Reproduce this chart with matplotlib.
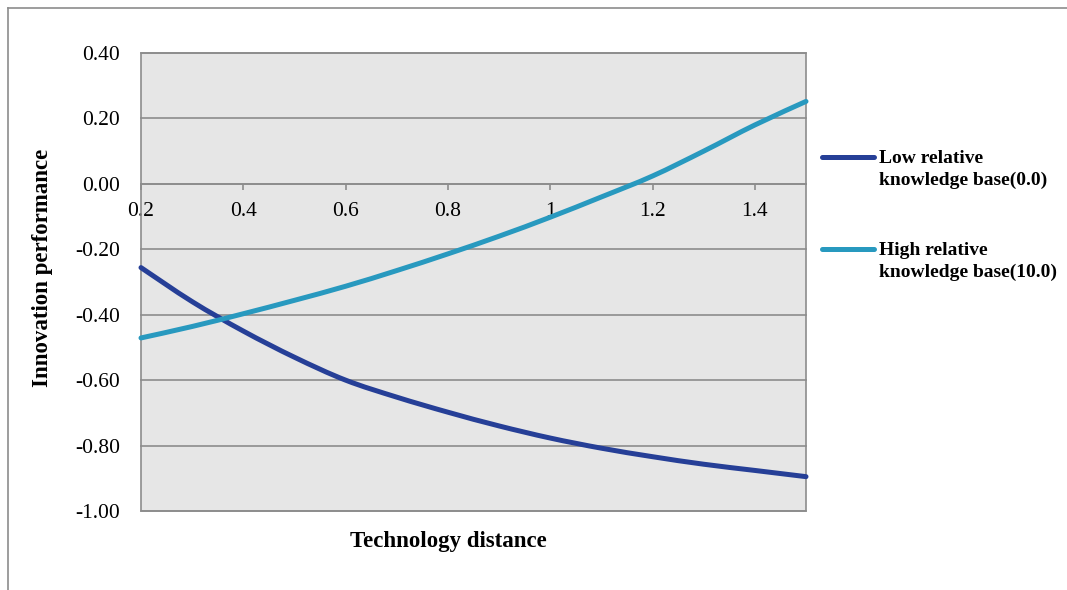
import matplotlib
matplotlib.use("Agg")
import matplotlib.pyplot as plt
from matplotlib.lines import Line2D
from matplotlib.patches import Rectangle, PathPatch
from matplotlib.path import Path

# Technology distance and predicted innovation performance for two groups
distance = [0.2, 0.3, 0.4, 0.5, 0.6, 0.7, 0.8, 0.9, 1.0, 1.1, 1.2, 1.3, 1.4, 1.5]
low_kb = [-0.256, -0.360, -0.450, -0.530, -0.600, -0.652, -0.698, -0.740,
          -0.777, -0.808, -0.834, -0.857, -0.876, -0.895]
high_kb = [-0.471, -0.436, -0.397, -0.356, -0.313, -0.265, -0.214, -0.160,
           -0.102, -0.040, 0.024, 0.100, 0.180, 0.252]

series_labels = ["Low relative\nknowledge base(0.0)",
                 "High relative\nknowledge base(10.0)"]
x_ticks = [0.2, 0.4, 0.6, 0.8, 1.0, 1.2, 1.4]
x_ticklabels = ["0.2", "0.4", "0.6", "0.8", "1", "1.2", "1.4"]
y_ticks = [0.4, 0.2, 0.0, -0.2, -0.4, -0.6, -0.8, -1.0]
y_ticklabels = ["0.40", "0.20", "0.00", "-0.20", "-0.40", "-0.60", "-0.80", "-1.00"]

LOW_COLOR = "#263f97"
HIGH_COLOR = "#2899bf"
GRID = "#8c8c8c"

plt.rcParams["font.family"] = ["Liberation Serif", "DejaVu Serif"]
plt.rcParams["axes.unicode_minus"] = False


def smooth_path(xs, ys, tension=1 / 6):
    """Smoothed line through the points, using cubic Bezier segments."""
    n = len(xs)
    verts = [(xs[0], ys[0])]
    codes = [Path.MOVETO]
    for i in range(n - 1):
        x0, y0 = xs[max(i - 1, 0)], ys[max(i - 1, 0)]
        x1, y1 = xs[i], ys[i]
        x2, y2 = xs[i + 1], ys[i + 1]
        x3, y3 = xs[min(i + 2, n - 1)], ys[min(i + 2, n - 1)]
        c1 = (x1 + (x2 - x0) * tension, y1 + (y2 - y0) * tension)
        c2 = (x2 - (x3 - x1) * tension, y2 - (y3 - y1) * tension)
        verts += [c1, c2, (x2, y2)]
        codes += [Path.CURVE4] * 3
    return Path(verts, codes)


W, H = 1067, 590
fig = plt.figure(figsize=(W / 100, H / 100), dpi=100)
fig.patch.set_facecolor("white")

ax = fig.add_axes([141 / W, 1 - 511 / H, (806 - 141) / W, (511 - 53) / H])
ax.set_facecolor("#e6e6e6")
ax.set_xlim(0.2, 1.5)
ax.set_ylim(-1.0, 0.4)

# horizontal gridlines
for yv in y_ticks:
    ax.axhline(yv, color=GRID, lw=1.2, zorder=1, clip_on=False)

# plot area border
ax.add_patch(Rectangle((0, 0), 1, 1, transform=ax.transAxes, fill=False,
                       edgecolor=GRID, lw=1.2, clip_on=False, zorder=2))
for side in ["left", "right", "top"]:
    ax.spines[side].set_visible(False)
ax.spines["bottom"].set_position(("data", 0))
ax.spines["bottom"].set_color(GRID)
ax.spines["bottom"].set_linewidth(1.2)

ax.set_xticks(x_ticks)
ax.set_xticklabels(x_ticklabels, fontsize=15.5)
ax.tick_params(axis="x", direction="out", length=4, width=1.2, color=GRID, pad=9)
ax.set_yticks(y_ticks)
ax.set_yticklabels(y_ticklabels, fontsize=15.5)
ax.tick_params(axis="y", length=0, pad=15)

for ys, color in [(low_kb, LOW_COLOR), (high_kb, HIGH_COLOR)]:
    ax.add_patch(PathPatch(smooth_path(distance, ys), facecolor="none",
                           edgecolor=color, lw=3.6, capstyle="round",
                           zorder=4, clip_on=False))

# axis titles
fig.text(448 / W, 1 - 542 / H, "Technology distance", fontsize=16.5,
         fontweight="bold", ha="center", va="center")
fig.text(43 / W, 1 - 268 / H, "Innovation performance", fontsize=16.5,
         fontweight="bold", ha="center", va="center", rotation=90)

# legend
for label, color, ly in [(series_labels[0], LOW_COLOR, 157),
                         (series_labels[1], HIGH_COLOR, 249)]:
    fig.add_artist(Line2D([822 / W, 874 / W], [1 - ly / H, 1 - ly / H],
                          color=color, lw=3.6, solid_capstyle="round"))
    fig.text(879 / W, 1 - (ly - 7) / H, label, fontsize=14, fontweight="bold",
             ha="left", va="top", linespacing=1.35)

# outer frame
fig.add_artist(Line2D([7.5 / W, 7.5 / W], [0, 1 - 7.5 / H], color=GRID, lw=1.2))
fig.add_artist(Line2D([7.5 / W, 1], [1 - 7.5 / H, 1 - 7.5 / H], color=GRID, lw=1.2))

fig.savefig("out.png", dpi=100)
